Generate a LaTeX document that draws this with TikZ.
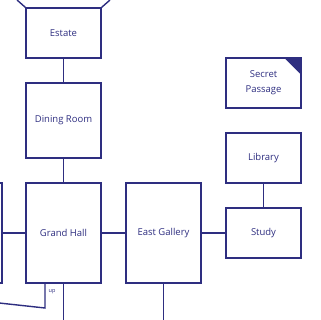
\documentclass[tikz,border=0pt]{standalone}
\usepackage{fontspec}
\setmainfont{Open Sans}
\definecolor{planblue}{RGB}{46,46,128}

\begin{document}
\begin{tikzpicture}[x=1pt,y=-1pt,
  room/.style={draw=planblue,line width=1.4pt,minimum width=75pt,text=planblue,
    font=\fontsize{9.5}{15}\selectfont,align=center,inner sep=0pt},
  link/.style={draw=planblue,line width=1.4pt}]
\useasboundingbox (0,0) rectangle (320,320);
\clip (0,0) rectangle (320,320);
% rooms
\node[room,minimum height=50pt]  (estate)      at (63.5,33)    {Estate};
\node[room,minimum height=75pt]  (dining)      at (63.5,120.5) {Dining Room};
\node[room,minimum height=100pt] (grandhall)   at (63.5,233)   {Grand Hall};
\node[room,minimum height=100pt] (westroom)    at (-35.5,233)  {};
\node[room,minimum height=100pt] (eastgallery) at (163.5,233)  {East Gallery};
\node[room,minimum height=50pt]  (study)       at (263.5,233)  {Study};
\node[room,minimum height=50pt]  (library)     at (263.5,158)  {Library};
\node[room,minimum height=50pt]  (secret)      at (263.5,83)   {Secret\\Passage};
\fill[planblue] (secret.north east) -- ++(-18,0) -- ++(18,18) -- cycle;
% exits off the page
\coordinate (estateleft)  at (17,0);
\coordinate (estateright) at (110,0);
\coordinate (hallexit)    at (63.5,330);
\coordinate (galleryexit) at (163.5,330);
\coordinate (stairtop)    at (45,308);
\coordinate (stairend)    at (-10,302);
% connections
\draw[link] (estate.north west) -- (estateleft);
\draw[link] (estate.north east) -- (estateright);
\draw[link] (estate) -- (dining);
\draw[link] (dining) -- (grandhall);
\draw[link] (westroom) -- (grandhall);
\draw[link] (grandhall) -- (eastgallery);
\draw[link] (eastgallery) -- (study);
\draw[link] (library) -- (study);
\draw[link] (grandhall.south) -- (hallexit);
\draw[link] (eastgallery.south) -- (galleryexit);
\draw[link] (grandhall.south west -| stairtop) -- (stairtop) -- (stairend);
\node[text=planblue,font=\fontsize{5.5}{6}\selectfont] (uplabel) at (52,292) {up};
\end{tikzpicture}
\end{document}
